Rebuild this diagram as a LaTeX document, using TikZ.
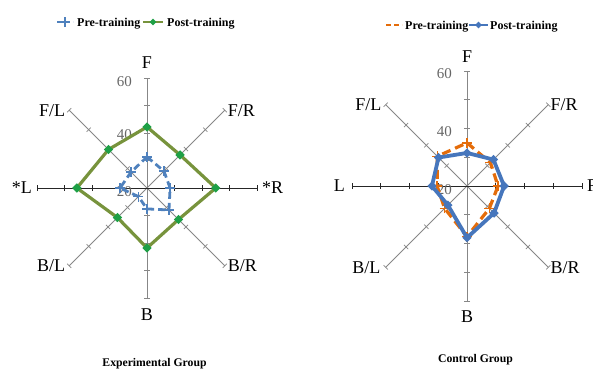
\documentclass[tikz,border=0pt]{standalone}
\usepackage{fontspec}
\setmainfont{Liberation Serif}
\usetikzlibrary{positioning,shapes.geometric}

\definecolor{postgreen}{RGB}{119,147,60}
\definecolor{markgreen}{RGB}{30,160,70}
\definecolor{preblue}{RGB}{79,129,189}
\definecolor{postblue}{RGB}{70,118,188}
\definecolor{preorange}{RGB}{228,108,10}
\definecolor{axisgray}{RGB}{135,135,135}

\tikzset{
  axisline/.style={axisgray, line width=0.8pt},
  haxisline/.style={black!85, line width=0.9pt},
  tickmark/.style={line width=0.7pt},
  axislabel/.style={font=\fontsize{18}{18}\selectfont, inner sep=1pt},
  valuelabel/.style={font=\fontsize{15}{15}\selectfont, text=black!60, anchor=east, inner sep=0pt},
  legendtext/.style={font=\bfseries\fontsize{12}{12}\selectfont, anchor=base west, inner sep=0pt},
  titletext/.style={font=\bfseries\fontsize{11.7}{12}\selectfont, anchor=base, inner sep=0pt},
  dmark/.style={diamond, fill=#1, inner sep=0pt, minimum size=9.5pt},
  crossmark/.pic={\draw[#1, line width=1.6pt] (-5,0) -- (5,0) (0,-5) -- (0,5);},
  eprepath/.style={preblue, line width=2.8pt, dash pattern=on 7pt off 4pt, line join=round},
  epostpath/.style={postgreen, line width=3.2pt, line join=round},
  cprepath/.style={preorange, line width=3.2pt, dash pattern=on 9pt off 5pt, line join=round},
  cpostpath/.style={postblue, line width=3.8pt, line join=round}
}

\begin{document}
\begin{tikzpicture}[x=1pt, y=1pt]
    \useasboundingbox (0,0) rectangle (593,368);

    % Experimental group: axes and scale
    \begin{scope}[shift={(147,180)}]
        \coordinate (eC) at (0,0);
        \foreach \a/\n in {90/F, 45/FR, 0/R, -45/BR, -90/B, -135/BL, 180/L, 135/FL} {
            \coordinate (eA\n) at (\a:110);
            \draw[axisline] (eC) -- (eA\n);
            \foreach \k in {1,...,4}
                \draw[tickmark, axisgray] (\a:{\k*27.5}) ++({\a+90}:3) -- ++({\a-90}:6);
        }
        \draw[haxisline] (eAL) -- (eAR);
        \foreach \k in {1,...,4} {
            \draw[tickmark, black!85] (\k*27.5,3) -- (\k*27.5,-3);
            \draw[tickmark, black!85] (-\k*27.5,3) -- (-\k*27.5,-3);
        }
        \node[valuelabel] (eV60) at (-15,106) {60};
        \node[valuelabel] (eV40) at (-15,53) {40};
        \node[valuelabel] (eV20) at (-15,-4) {20};

        % data points
        \foreach \a/\v/\n in {90/31.3/F, 45/28.7/FR, 0/28.4/R, -45/31.3/BR, -90/27.6/B, -135/24.4/BL, 180/29.8/L, 135/28.2/FL}
            \coordinate (ePre\n) at (\a:{(\v-20)*2.75});
        \foreach \a/\v/\n in {90/42.2/F, 45/37/FR, 0/45/R, -45/36.2/BR, -90/41.8/B, -135/35.2/BL, 180/45.5/L, 135/39.8/FL}
            \coordinate (ePost\n) at (\a:{(\v-20)*2.75});
    \end{scope}

    % Experimental group: direction labels
    \node[axislabel, above=8pt of eAF] (eLbF) {F};
    \node[axislabel, right=2pt of eAFR] (eLbFR) {F/R};
    \node[axislabel, right=4pt of eAR] (eLbR) {*R};
    \node[axislabel, right=2pt of eABR] (eLbBR) {B/R};
    \node[axislabel, below=10pt of eAB] (eLbB) {B};
    \node[axislabel, left=3pt of eABL] (eLbBL) {B/L};
    \node[axislabel, left=4pt of eAL] (eLbL) {*L};
    \node[axislabel, left=3pt of eAFL] (eLbFL) {F/L};

    % Experimental group: series
    \draw[eprepath] (ePreF) -- (ePreFR) -- (ePreR) -- (ePreBR) -- (ePreB) -- (ePreBL) -- (ePreL) -- (ePreFL) -- cycle;
    \foreach \n in {F,FR,R,BR,B,BL,L,FL}
        \pic (eMkPre\n) at (ePre\n) {crossmark=preblue};
    \draw[epostpath] (ePostF) -- (ePostFR) -- (ePostR) -- (ePostBR) -- (ePostB) -- (ePostBL) -- (ePostL) -- (ePostFL) -- cycle;
    \foreach \n in {F,FR,R,BR,B,BL,L,FL}
        \node[dmark=markgreen] (eMkPost\n) at (ePost\n) {};

    % Experimental group: legend and title
    \coordinate (eLgPreA) at (57,346);
    \coordinate (eLgPreB) at (73,346);
    \draw[eprepath, line width=2pt, dash pattern=on 5pt off 3pt] (eLgPreA) -- (eLgPreB);
    \pic (eLgPreMk) at (65,346) {crossmark=preblue};
    \node[legendtext] (eLgPreTx) at (77,341.3) {Pre-training};
    \coordinate (eLgPostA) at (143,346);
    \coordinate (eLgPostB) at (163,346);
    \draw[epostpath, line width=2.4pt] (eLgPostA) -- (eLgPostB);
    \node[dmark=markgreen, minimum size=7pt] (eLgPostMk) at (153,346) {};
    \node[legendtext] (eLgPostTx) at (167,341.3) {Post-training};
    \node[titletext] (eTitle) at (154.5,1.5) {Experimental Group};

    % Control group: axes and scale
    \begin{scope}[shift={(467,182)}]
        \coordinate (cC) at (0,0);
        \foreach \a/\n in {90/F, 45/FR, 0/R, -45/BR, -90/B, -135/BL, 180/L, 135/FL} {
            \coordinate (cA\n) at (\a:115);
            \draw[axisline] (cC) -- (cA\n);
            \foreach \k in {1,...,4}
                \draw[tickmark, axisgray] (\a:{\k*28.75}) ++({\a+90}:3) -- ++({\a-90}:6);
        }
        \draw[haxisline] (cAL) -- (cAR);
        \foreach \k in {1,...,4} {
            \draw[tickmark, black!85] (\k*28.75,3) -- (\k*28.75,-3);
            \draw[tickmark, black!85] (-\k*28.75,3) -- (-\k*28.75,-3);
        }
        \node[valuelabel] (cV60) at (-15,112) {60};
        \node[valuelabel] (cV40) at (-15,54) {40};
        \node[valuelabel] (cV20) at (-15,-4) {20};

        % data points
        \foreach \a/\v/\n in {90/35/F, 45/31.5/FR, 0/30.8/R, -45/31/BR, -90/37.6/B, -135/31/BL, 180/30.4/L, 135/34.6/FL}
            \coordinate (cPre\n) at (\a:{(\v-20)*2.875});
        \foreach \a/\v/\n in {90/31.5/F, 45/33/FR, 0/32.9/R, -45/33.3/BR, -90/38/B, -135/29.4/BL, 180/32.2/L, 135/34/FL}
            \coordinate (cPost\n) at (\a:{(\v-20)*2.875});
    \end{scope}

    % Control group: direction labels
    \node[axislabel, above=7pt of cAF] (cLbF) {F};
    \node[axislabel, right=1pt of cAFR] (cLbFR) {F/R};
    \node[axislabel, right=4pt of cAR] (cLbR) {R};
    \node[axislabel, right=1pt of cABR] (cLbBR) {B/R};
    \node[axislabel, below=9pt of cAB] (cLbB) {B};
    \node[axislabel, left=4pt of cABL] (cLbBL) {B/L};
    \node[axislabel, left=6pt of cAL] (cLbL) {L};
    \node[axislabel, left=3pt of cAFL] (cLbFL) {F/L};

    % Control group: series
    \draw[cprepath] (cPreF) -- (cPreFR) -- (cPreR) -- (cPreBR) -- (cPreB) -- (cPreBL) -- (cPreL) -- (cPreFL) -- cycle;
    \foreach \n in {F,FR,R,BR,B,BL,L,FL}
        \pic (cMkPre\n) at (cPre\n) {crossmark=preorange};
    \draw[cpostpath] (cPostF) -- (cPostFR) -- (cPostR) -- (cPostBR) -- (cPostB) -- (cPostBL) -- (cPostL) -- (cPostFL) -- cycle;
    \foreach \n in {F,FR,R,BR,B,BL,L,FL}
        \node[dmark=postblue] (cMkPost\n) at (cPost\n) {};

    % Control group: legend and title
    \coordinate (cLgPreA) at (386,343);
    \coordinate (cLgPreB) at (402,343);
    \draw[cprepath, line width=2.2pt, dash pattern=on 5pt off 3pt] (cLgPreA) -- (cLgPreB);
    \node[legendtext] (cLgPreTx) at (405,338.7) {Pre-training};
    \coordinate (cLgPostA) at (469,343);
    \coordinate (cLgPostB) at (488,343);
    \draw[cpostpath, line width=2.4pt] (cLgPostA) -- (cLgPostB);
    \node[dmark=postblue, minimum size=7pt] (cLgPostMk) at (478.5,343) {};
    \node[legendtext] (cLgPostTx) at (490,338.7) {Post-training};
    \node[titletext] (cTitle) at (475.5,5.3) {Control Group};
\end{tikzpicture}
\end{document}
